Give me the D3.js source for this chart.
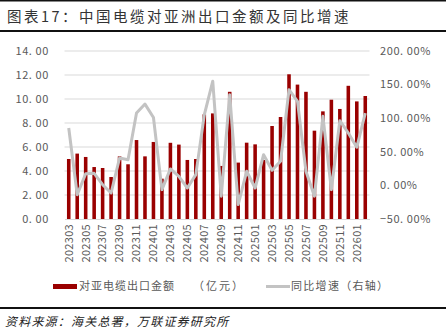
<!DOCTYPE html>
<html>
<head>
<meta charset="utf-8">
<script src="https://cdn.jsdelivr.net/npm/d3@7"></script>
<style>
  html, body { margin: 0; padding: 0; background: #fff; }
  svg { display: block; }
  text { font-family: "Noto Sans CJK SC", "DejaVu Sans", sans-serif; }
</style>
</head>
<body>
<svg id="chart" width="446" height="334"></svg>
<script>
// Monthly export value to Asia (亿元) and YoY growth (%)
const months = [
  "202303","202304","202305","202306","202307","202308","202309","202310","202311","202312",
  "202401","202402","202403","202404","202405","202406","202407","202408","202409","202410",
  "202411","202412","202501","202502","202503","202504","202505","202506","202507","202508",
  "202509","202510","202511","202512","202601","202602"
];
const exportValue = [
  5.00, 5.45, 5.17, 4.33, 4.25, 3.50, 5.22, 4.56, 6.58, 5.22,
  6.42, 3.36, 6.35, 6.20, 4.92, 5.00, 8.72, 8.80, 4.42, 10.60,
  4.70, 6.36, 6.22, 4.92, 7.75, 8.50, 12.06, 11.20, 10.60, 7.36,
  8.97, 9.94, 9.17, 11.10, 9.80, 10.25
];
const yoyGrowth = [
  85.4, -13.8, 17.4, 18.0, 1.0, -11.3, 40.8, 38.3, 107.7, 121.0,
  101.0, -6.3, 24.5, 13.5, -3.9, 16.0, 105.0, 155.0, -16.0, 135.0,
  -28.6, 21.0, -3.9, 45.7, 22.5, 35.8, 142.4, 125.0, 21.0, -16.0,
  102.8, -6.3, 96.3, 78.0, 56.7, 107.7
];
const leftTicks = [0, 2, 4, 6, 8, 10, 12, 14];
const rightTicks = [-50, 0, 50, 100, 150, 200];

const svg = d3.select("#chart");
const plot = { left: 64.5, right: 369.5, top: 51, bottom: 219 };

const x = d3.scaleBand().domain(months).range([plot.left, plot.right]).paddingInner(0.58).paddingOuter(0.29);
const yL = d3.scaleLinear().domain([0, 14]).range([plot.bottom, plot.top]);
const yR = d3.scaleLinear().domain([-50, 200]).range([plot.bottom, plot.top]);

// Title with rules above and below
svg.append("rect").attr("x", 0).attr("y", 0).attr("width", 446).attr("height", 1.5).attr("fill", "#111");
svg.append("text").attr("x", 7).attr("y", 21.5)
  .attr("font-size", 14.5).attr("fill", "#333").attr("letter-spacing", 2.5)
  .text("图表17：中国电缆对亚洲出口金额及同比增速");
svg.append("rect").attr("x", 0).attr("y", 30).attr("width", 446).attr("height", 2).attr("fill", "#111");

// Gridlines
svg.append("g").selectAll("line").data(leftTicks.slice(1)).join("line")
  .attr("x1", plot.left).attr("x2", plot.right)
  .attr("y1", d => yL(d)).attr("y2", d => yL(d))
  .attr("stroke", "#d9d9d9").attr("stroke-width", 1);

// Left axis labels
svg.append("g").selectAll("text").data(leftTicks).join("text")
  .attr("x", 49).attr("y", d => yL(d)).attr("dy", "0.35em")
  .attr("text-anchor", "end").attr("font-size", 11).attr("fill", "#595959")
  .attr("letter-spacing", 0.6)
  .text(d => d3.format(".2f")(d).replace(".", ". "));

// Right axis labels
svg.append("g").selectAll("text").data(rightTicks).join("text")
  .attr("x", 380).attr("y", d => yR(d)).attr("dy", "0.35em")
  .attr("text-anchor", "start").attr("font-size", 11).attr("fill", "#595959")
  .attr("letter-spacing", 0.6)
  .text(d => d3.format(".2f")(d).replace(".", ". ") + "%");

// Bars
svg.append("g").selectAll("rect").data(months).join("rect")
  .attr("x", d => x(d)).attr("width", x.bandwidth())
  .attr("y", (d, i) => yL(exportValue[i]))
  .attr("height", (d, i) => yL(0) - yL(exportValue[i]))
  .attr("fill", "#9a0000");

// Bottom axis
const xAxis = d3.axisBottom(x)
  .tickValues(months.filter((d, i) => i % 2 === 0))
  .tickSize(0).tickPadding(0);
const gx = svg.append("g").attr("transform", `translate(0,${plot.bottom})`).call(xAxis);
gx.select(".domain").attr("stroke", "#d9d9d9").attr("stroke-width", 1);
gx.selectAll("text")
  .attr("font-size", 11).attr("fill", "#595959")
  .attr("font-family", "\"Noto Sans CJK SC\", sans-serif")
  .attr("letter-spacing", 0.3)
  .attr("text-anchor", "end")
  .attr("transform", "translate(0,5) rotate(-90)")
  .attr("dy", "0.35em").attr("y", 0).attr("x", 0);

// YoY line on right axis
const line = d3.line()
  .x((d, i) => x(months[i]) + x.bandwidth() / 2)
  .y(d => yR(d));
svg.append("path").datum(yoyGrowth)
  .attr("d", line).attr("fill", "none")
  .attr("stroke", "#c3c3c3").attr("stroke-width", 3)
  .attr("stroke-linejoin", "round");

// Legend
const lg = svg.append("g").attr("font-size", 11).attr("fill", "#595959");
lg.append("rect").attr("x", 53).attr("y", 284).attr("width", 24).attr("height", 5).attr("fill", "#9a0000");
lg.append("text").attr("x", 79).attr("y", 286.5).attr("dy", "0.35em").attr("letter-spacing", 1).text("对亚电缆出口金额");
lg.append("text").attr("x", 193).attr("y", 286.5).attr("dy", "0.35em").attr("letter-spacing", 2).text("（亿元）");
lg.append("line").attr("x1", 266).attr("x2", 290).attr("y1", 286.5).attr("y2", 286.5)
  .attr("stroke", "#c3c3c3").attr("stroke-width", 3);
lg.append("text").attr("x", 291).attr("y", 286.5).attr("dy", "0.35em").attr("letter-spacing", 1.3).text("同比增速（右轴）");

// Footer rule and source
svg.append("rect").attr("x", 0).attr("y", 307).attr("width", 446).attr("height", 2).attr("fill", "#111");
svg.append("text").attr("x", 5).attr("y", 326)
  .attr("font-size", 12).attr("fill", "#222").attr("font-style", "italic").attr("letter-spacing", 1.2)
  .text("资料来源：海关总署，万联证券研究所");
</script>
</body>
</html>
